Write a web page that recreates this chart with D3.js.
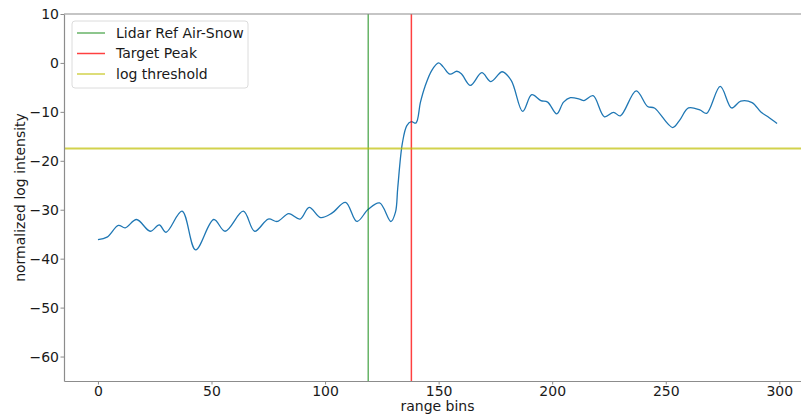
<!DOCTYPE html>
<html>
<head>
<meta charset="utf-8">
<script src="https://cdn.jsdelivr.net/npm/d3@7"></script>
<style>
  body { margin: 0; background: #fff; }
  svg { display: block; font-family: "DejaVu Sans", sans-serif; }
</style>
</head>
<body>
<svg id="chart"></svg>
<script>
// Chart size
const width = 801;
const height = 418;
const margin = { top: 14, right: -10, bottom: 37, left: 64 };

// Waveform (range bin, normalized log intensity)
const bins = [0, 4, 9, 12, 17, 23, 27, 30, 37, 43, 51, 56, 64, 69, 75, 79, 84, 89, 93, 98,
  103, 109, 114, 119, 124, 129, 131, 132, 134, 136, 138, 140, 142, 144, 147, 150, 152, 155, 158, 160,
  164, 169, 173, 178, 182, 187, 191, 195, 198, 202, 205, 208, 212, 214, 218, 223, 227, 230, 237, 242,
  245, 253, 256, 260, 265, 268, 274, 279, 283, 288, 292, 295, 299];
const intensity = [-36.1, -35.6, -33.2, -33.7, -32.0, -34.4, -33.1, -34.6, -30.3, -38.2, -32.0, -34.4, -30.3, -34.4, -31.9, -32.4, -30.8, -31.9, -29.5, -31.6,
  -30.7, -28.5, -32.4, -29.9, -28.6, -32.4, -30.5, -25.5, -16.5, -12.8, -12.0, -12.3, -8.0, -4.8, -1.5, 0.0, -0.8, -2.3, -1.7, -2.2,
  -4.6, -2.0, -3.8, -1.8, -3.6, -9.9, -6.5, -7.7, -8.0, -10.4, -8.0, -7.1, -7.4, -7.7, -6.7, -11.0, -10.1, -10.8, -5.7, -8.9,
  -9.2, -13.2, -11.8, -9.2, -9.6, -10.3, -4.8, -9.2, -7.8, -8.1, -10.1, -11.0, -12.4];

// Reference markers
const airSnowBin = 119;
const targetPeakBin = 138;
const logThreshold = -17.5;

const xTicks = [0, 50, 100, 150, 200, 250, 300];
const yTicks = [10, 0, -10, -20, -30, -40, -50, -60];

const legendItems = [
  { label: "Lidar Ref Air-Snow", color: "#008000", opacity: 0.6 },
  { label: "Target Peak", color: "#ff0000", opacity: 0.75 },
  { label: "log threshold", color: "#bfbf00", opacity: 0.7 }
];

const svg = d3.select("#chart")
  .attr("width", width)
  .attr("height", height);

const x = d3.scaleLinear()
  .domain([-14.95, 313.95])
  .range([margin.left, width - margin.right]);

const y = d3.scaleLinear()
  .domain([-65, 10])
  .range([height - margin.bottom, margin.top]);

const spineColor = "#8c8c8c";
const textColor = "#1a1a1a";
const fontSize = "14px";

// Clip for plot area
svg.append("clipPath").attr("id", "plot")
  .append("rect")
  .attr("x", x.range()[0]).attr("y", margin.top)
  .attr("width", x.range()[1] - x.range()[0])
  .attr("height", y.range()[0] - margin.top);

const plot = svg.append("g").attr("clip-path", "url(#plot)");

// Signal
const data = bins.map((b, i) => ({ b, v: intensity[i] }));
plot.append("path")
  .datum(data)
  .attr("fill", "none")
  .attr("stroke", "#1f77b4")
  .attr("stroke-width", 1.3)
  .attr("d", d3.line()
    .x(d => x(d.b))
    .y(d => y(d.v))
    .curve(d3.curveCatmullRom.alpha(0.5)));

// Marker lines
plot.append("line")
  .attr("x1", x(airSnowBin)).attr("x2", x(airSnowBin))
  .attr("y1", y(-65)).attr("y2", y(10))
  .attr("stroke", legendItems[0].color)
  .attr("stroke-opacity", legendItems[0].opacity)
  .attr("stroke-width", 1.5);

plot.append("line")
  .attr("x1", x(targetPeakBin)).attr("x2", x(targetPeakBin))
  .attr("y1", y(-65)).attr("y2", y(10))
  .attr("stroke", legendItems[1].color)
  .attr("stroke-opacity", legendItems[1].opacity)
  .attr("stroke-width", 1.5);

plot.append("line")
  .attr("x1", x.range()[0]).attr("x2", x.range()[1])
  .attr("y1", y(logThreshold)).attr("y2", y(logThreshold))
  .attr("stroke", legendItems[2].color)
  .attr("stroke-opacity", legendItems[2].opacity)
  .attr("stroke-width", 2);

// Axes
const xAxis = svg.append("g")
  .attr("transform", `translate(0,${y(-65)})`)
  .call(d3.axisBottom(x).tickValues(xTicks).tickSize(3.5).tickSizeOuter(0).tickPadding(1.5));

const yAxis = svg.append("g")
  .attr("transform", `translate(${x.range()[0]},0)`)
  .call(d3.axisLeft(y).tickValues(yTicks).tickSize(3.5).tickSizeOuter(0).tickPadding(1.5)
    .tickFormat(d => d < 0 ? "\u2212" + Math.abs(d) : d));

[xAxis, yAxis].forEach(g => {
  g.select(".domain").attr("stroke", spineColor).attr("stroke-width", 1.2);
  g.selectAll(".tick line").attr("stroke", spineColor);
  g.selectAll(".tick text").attr("fill", textColor).style("font-size", fontSize)
    .style("font-family", "DejaVu Sans, sans-serif");
});

// Top spine
svg.append("line")
  .attr("x1", x.range()[0]).attr("x2", x.range()[1])
  .attr("y1", margin.top).attr("y2", margin.top)
  .attr("stroke", spineColor).attr("stroke-width", 1.2);

// Axis labels
svg.append("text")
  .attr("x", (x.range()[0] + x.range()[1]) / 2)
  .attr("y", 411)
  .attr("text-anchor", "middle")
  .attr("fill", textColor)
  .style("font-size", fontSize)
  .text("range bins");

svg.append("text")
  .attr("transform", `translate(25,${(y.range()[0] + y.range()[1]) / 2}) rotate(-90)`)
  .attr("text-anchor", "middle")
  .attr("fill", textColor)
  .style("font-size", fontSize)
  .text("normalized log intensity");

// Legend
const legend = svg.append("g").attr("transform", "translate(72,21)");
legend.append("rect")
  .attr("width", 176).attr("height", 67)
  .attr("rx", 3)
  .attr("fill", "#fff").attr("fill-opacity", 0.8)
  .attr("stroke", "#dcdcdc");

legendItems.forEach((item, i) => {
  const row = legend.append("g").attr("transform", `translate(0,${12 + i * 20.5})`);
  row.append("line")
    .attr("x1", 5).attr("x2", 33)
    .attr("stroke", item.color)
    .attr("stroke-opacity", item.opacity)
    .attr("stroke-width", 1.5);
  row.append("text")
    .attr("x", 44).attr("y", 0)
    .attr("dy", "0.35em")
    .attr("fill", textColor)
    .style("font-size", fontSize)
    .text(item.label);
});
</script>
</body>
</html>
